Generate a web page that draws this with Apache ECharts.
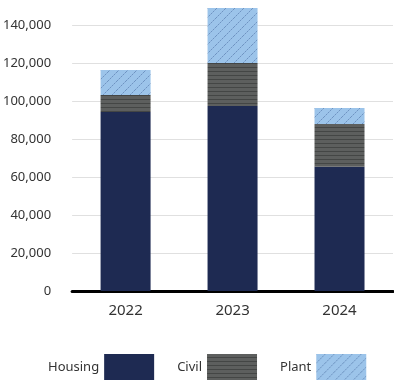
<!DOCTYPE html>
<html><head><meta charset="utf-8">
<script src="https://cdn.jsdelivr.net/npm/echarts@6/dist/echarts.min.js"></script>
<style>html,body{margin:0;padding:0;background:#fff}#c{width:394px;height:380px}</style>
</head><body><div id="c"></div>
<script>
const categories = ['2022', '2023', '2024'];
const housing = [94200, 97400, 65400];
const civil = [9000, 22600, 22500];
const plant = [13100, 29000, 8400];
const seriesNames = ['Housing', 'Civil', 'Plant'];

function civilPattern() {
  const c = document.createElement('canvas');
  c.width = 8; c.height = 4;
  const g = c.getContext('2d');
  g.fillStyle = '#5d5f5e'; g.fillRect(0, 0, 8, 4);
  g.fillStyle = '#444645'; g.fillRect(0, 3, 8, 1);
  return c;
}
function plantPattern() {
  const n = 9;
  const c = document.createElement('canvas');
  c.width = n; c.height = n;
  const g = c.getContext('2d');
  g.fillStyle = '#9cc4ea'; g.fillRect(0, 0, n, n);
  for (let i = 0; i < n; i += 1) {
    g.fillStyle = (i % 2 === 0) ? '#6f94c2' : '#88acd6';
    g.fillRect(i, n - 1 - i, 1, 1);
  }
  return c;
}

const chart = echarts.init(document.getElementById('c'), null, {renderer: 'canvas'});
const font = 'Noto Sans';
chart.setOption({
  animation: false,
  grid: {left: 68, right: 1, top: 6, bottom: 89, containLabel: false},
  legend: {
    left: 43, top: 349, itemWidth: 50, itemHeight: 26, itemGap: 23, align: 'right',
    icon: 'rect', data: seriesNames,
    textStyle: {fontFamily: font, fontSize: 13, color: '#333'}
  },
  xAxis: {
    type: 'category', data: categories,
    axisLine: {lineStyle: {color: '#000', width: 3}},
    axisTick: {show: false},
    axisLabel: {fontFamily: font, fontSize: 15, color: '#333', margin: 12}
  },
  yAxis: {
    type: 'value', min: 0, max: 150000, interval: 20000,
    axisLine: {show: false}, axisTick: {show: false},
    splitLine: {lineStyle: {color: '#e0e0e0', width: 1}, showMaxLine: false},
    axisLabel: {fontFamily: font, fontSize: 13, color: '#333', margin: 21, showMaxLabel: false,
      formatter: v => v.toLocaleString('en-US')}
  },
  series: [
    {name: seriesNames[0], type: 'bar', stack: 's', data: housing, barWidth: 50,
      itemStyle: {color: '#1e2a52'}},
    {name: seriesNames[1], type: 'bar', stack: 's', data: civil, barWidth: 50,
      itemStyle: {color: {image: civilPattern(), repeat: 'repeat'}}},
    {name: seriesNames[2], type: 'bar', stack: 's', data: plant, barWidth: 50,
      itemStyle: {color: {image: plantPattern(), repeat: 'repeat'}}}
  ]
});
</script></body></html>
